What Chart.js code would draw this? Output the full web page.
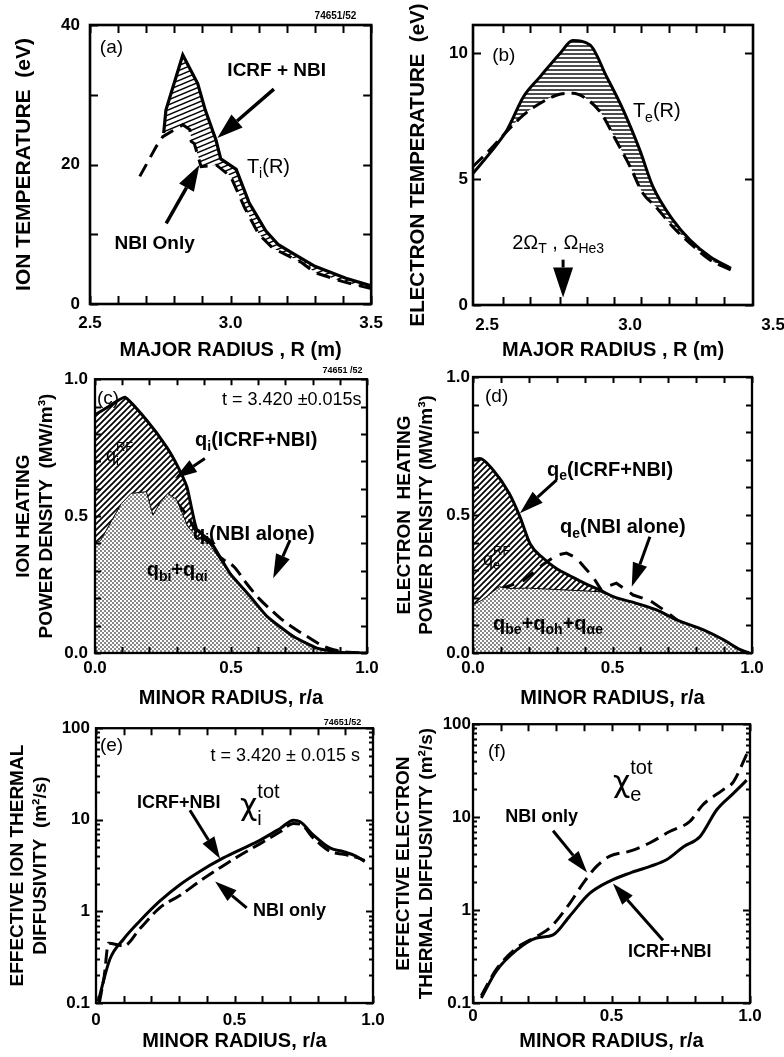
<!DOCTYPE html>
<html>
<head>
<meta charset="utf-8">
<script src="https://cdn.jsdelivr.net/npm/chart.js@4.4.0/dist/chart.umd.min.js"></script>
<style>
  html, body { margin: 0; padding: 0; background: #fff; overflow: hidden; width: 784px; height: 1057px; }
  canvas { position: absolute; }
</style>
</head>
<body>
<canvas id="ca" width="392" height="362" style="left:0;top:0"></canvas>
<canvas id="cb" width="408" height="362" style="left:392px;top:0"></canvas>
<canvas id="cc" width="392" height="350" style="left:0;top:362px"></canvas>
<canvas id="cd" width="408" height="350" style="left:392px;top:362px"></canvas>
<canvas id="ce" width="392" height="345" style="left:0;top:712px"></canvas>
<canvas id="cf" width="408" height="345" style="left:392px;top:712px"></canvas>
<script>
// ============================
// DATA
// ============================

// (a) ion temperature vs major radius
const aRsolid = [2.762, 2.77, 2.83, 2.883, 2.91, 2.948, 2.965, 3.02, 3.066, 3.125, 3.17, 3.22, 3.3, 3.41, 3.5];
const aTsolid = [24.5, 27.8, 35.7, 31.6, 27.8, 23.5, 20.8, 19.3, 14.5, 10.5, 8.5, 7.3, 5.4, 3.7, 2.6];
const aRdash = [2.677, 2.736, 2.759, 2.83, 2.855, 2.86, 2.871, 2.895, 2.95, 3.0, 3.05, 3.1, 3.15, 3.2, 3.25, 3.3, 3.4, 3.5];
const aTdash = [18.3, 22.6, 24.0, 25.7, 25.0, 23.3, 23.0, 19.7, 19.9, 18.3, 13.8, 10.0, 8.0, 7.0, 6.0, 4.5, 3.2, 2.2];
const aXticks = [2.5, 2.6, 2.7, 2.8, 2.9, 3.0, 3.1, 3.2, 3.3, 3.4, 3.5];
const aYticks = [0, 10, 20, 30, 40];
const aXlabels = [2.5, 3.0, 3.5];
const aYlabels = [0, 20, 40];

// (b) electron temperature vs major radius
const bRsolid = [2.451, 2.51, 2.57, 2.628, 2.686, 2.756, 2.8, 2.86, 2.918, 2.976, 3.034, 3.08, 3.15, 3.21, 3.28, 3.353];
const bTsolid = [5.23, 6.03, 6.95, 8.28, 9.07, 10.0, 10.5, 10.33, 9.07, 7.75, 6.16, 4.7, 3.38, 2.58, 1.92, 1.46];
const bRdash = [2.451, 2.51, 2.57, 2.628, 2.686, 2.745, 2.8, 2.86, 2.9, 2.95, 3.0, 3.045, 3.09, 3.15, 3.21, 3.28, 3.353];
const bTdash = [5.5, 6.16, 6.9, 7.55, 8.01, 8.34, 8.41, 8.08, 7.6, 6.56, 5.5, 4.44, 3.9, 3.1, 2.45, 1.79, 1.39];
const bXticks = [2.556, 2.652, 2.754, 2.848, 2.944, 3.04, 3.138, 3.232, 3.33];
const bYticks = [0, 5, 10];
const bXlabels = [2.5, 3.0, 3.5];
const bYlabels = [0, 5, 10];

// (c) ion heating power density vs r/a
const cRsolid = [0, 0.05, 0.11, 0.19, 0.263, 0.305, 0.338, 0.357, 0.375, 0.423, 0.46, 0.497, 0.57, 0.632, 0.73, 0.816, 0.877, 0.93, 1.0];
const cQsolid = [0.87, 0.9, 0.934, 0.85, 0.753, 0.68, 0.606, 0.52, 0.45, 0.41, 0.35, 0.29, 0.207, 0.134, 0.06, 0.018, 0.006, 0, 0];
const cRbeam = [0, 0.02, 0.048, 0.097, 0.133, 0.189, 0.213, 0.24, 0.268, 0.3, 0.342, 0.37, 0.42, 0.46, 0.5, 0.57, 0.632, 0.73, 0.816, 0.9, 1.0];
const cQbeam = [0.4, 0.41, 0.46, 0.546, 0.583, 0.589, 0.504, 0.55, 0.583, 0.56, 0.46, 0.43, 0.40, 0.34, 0.29, 0.205, 0.134, 0.06, 0.018, 0.004, 0];
const cRdash = [0.3, 0.34, 0.375, 0.42, 0.46, 0.51, 0.56, 0.607, 0.65, 0.69, 0.74, 0.78, 0.83, 0.877, 0.93, 1.0];
const cQdash = [0.55, 0.5, 0.44, 0.4, 0.35, 0.316, 0.25, 0.195, 0.155, 0.12, 0.085, 0.06, 0.03, 0.012, 0.003, 0];

// (d) electron heating power density vs r/a
const dRsolid = [0, 0.024, 0.072, 0.13, 0.168, 0.205, 0.25, 0.3, 0.347, 0.395, 0.455, 0.503, 0.586, 0.658, 0.73, 0.826, 0.898, 0.958, 0.99];
const dQsolid = [0.70, 0.705, 0.663, 0.578, 0.494, 0.395, 0.345, 0.305, 0.28, 0.255, 0.228, 0.204, 0.18, 0.156, 0.12, 0.084, 0.048, 0.012, 0];
const dRbeam = [0, 0.03, 0.094, 0.13, 0.2, 0.3, 0.4, 0.455, 0.503, 0.586, 0.658, 0.73, 0.826, 0.898, 0.958, 0.99];
const dQbeam = [0.175, 0.19, 0.24, 0.234, 0.235, 0.23, 0.225, 0.222, 0.204, 0.18, 0.156, 0.12, 0.084, 0.048, 0.012, 0];
const dRdash = [0.1, 0.18, 0.25, 0.3, 0.335, 0.37, 0.4, 0.43, 0.46, 0.478, 0.514, 0.55, 0.574, 0.634, 0.7, 0.755, 0.81, 0.87, 0.93, 1.0];
const dQdash = [0.232, 0.262, 0.32, 0.355, 0.362, 0.345, 0.31, 0.276, 0.228, 0.24, 0.253, 0.228, 0.21, 0.19, 0.145, 0.1, 0.06, 0.035, 0.012, 0];

// (e) ion thermal diffusivity
const eRsolid = [0.008, 0.05, 0.1, 0.159, 0.231, 0.304, 0.376, 0.448, 0.52, 0.593, 0.665, 0.713, 0.737, 0.785, 0.846, 0.894, 0.94, 0.97];
const eXsolid = [0.104, 0.3, 0.5, 0.79, 1.3, 1.97, 2.75, 3.67, 4.7, 6.0, 8.05, 9.9, 9.5, 6.8, 4.9, 4.5, 4.0, 3.5];
const eRdash = [0.012, 0.03, 0.045, 0.1, 0.159, 0.231, 0.304, 0.376, 0.448, 0.52, 0.593, 0.665, 0.713, 0.737, 0.785, 0.846, 0.894, 0.94, 0.97];
const eXdash = [0.1, 0.2, 0.45, 0.42, 0.65, 1.1, 1.5, 2.15, 3.0, 4.1, 5.5, 7.4, 9.1, 9.0, 6.3, 4.5, 4.2, 3.9, 3.6];

// (f) electron thermal diffusivity
const fRsolid = [0.03, 0.084, 0.157, 0.229, 0.289, 0.349, 0.42, 0.494, 0.566, 0.639, 0.7, 0.76, 0.82, 0.88, 0.94, 0.988];
const fXsolid = [0.113, 0.22, 0.37, 0.5, 0.54, 0.86, 1.5, 2.05, 2.5, 2.95, 3.5, 4.8, 6.2, 12, 18, 25];
const fRdash = [0.03, 0.084, 0.157, 0.229, 0.277, 0.35, 0.398, 0.446, 0.494, 0.566, 0.639, 0.71, 0.783, 0.83, 0.9, 0.94, 0.994];
const fXdash = [0.12, 0.23, 0.39, 0.52, 0.64, 1.19, 1.95, 2.95, 3.8, 4.3, 5.3, 7.0, 9.0, 13.6, 19.4, 24, 52];

// shared ticks for r/a panels
const tenths = [0, 0.1, 0.2, 0.3, 0.4, 0.5, 0.6, 0.7, 0.8, 0.9, 1.0];
const rLabels = [0, 0.5, 1.0];
const qLabels = [0, 0.5, 1.0];
const logMajor = [0.1, 1, 10, 100];
const logMinor = [0.2, 0.3, 0.4, 0.5, 0.6, 0.7, 0.8, 0.9, 2, 3, 4, 5, 6, 7, 8, 9, 20, 30, 40, 50, 60, 70, 80, 90];

// ============================
// HELPERS
// ============================
const FONT = '"Liberation Sans", Arial, Helvetica, sans-serif';
const GREEK = '"DejaVu Sans", "Liberation Sans", sans-serif';
Chart.defaults.font.family = FONT;
Chart.defaults.color = '#000';

function pts(xs, ys) { return xs.map((x, i) => ({ x: x, y: ys[i] })); }

function tile(w, h, draw) {
  const c = document.createElement('canvas');
  c.width = w; c.height = h;
  const g = c.getContext('2d');
  draw(g);
  return g.createPattern(c, 'repeat');
}
// hatch patterns
const hatchShallow = tile(12, 5, g => {
  g.strokeStyle = '#000'; g.lineWidth = 1.5; g.beginPath();
  for (let k = -1; k <= 1; k++) { g.moveTo(0, 5 + k * 5); g.lineTo(12, k * 5); }
  g.stroke();
});
const hatchHoriz = tile(4, 4, g => {
  g.strokeStyle = '#000'; g.lineWidth = 1.4; g.beginPath();
  g.moveTo(0, 2); g.lineTo(4, 2); g.stroke();
});
const hatchDiag = tile(6, 6, g => {
  g.strokeStyle = '#000'; g.lineWidth = 1.7; g.beginPath();
  g.moveTo(-1, 7); g.lineTo(7, -1);
  g.moveTo(-1, 1); g.lineTo(1, -1);
  g.moveTo(5, 7); g.lineTo(7, 5);
  g.stroke();
});
const stipple = tile(4, 4, g => {
  g.fillStyle = '#fff'; g.fillRect(0, 0, 4, 4);
  g.fillStyle = '#888'; g.fillRect(0, 0, 2, 2); g.fillRect(2, 2, 2, 2);
});
const NONE = 'rgba(0,0,0,0)';

function drawRich(ctx, n, px, py) {
  const size = n.size || 19, weight = n.weight || 'bold', sc = n.sc || 0.7;
  const small = weight + ' ' + Math.round(size * sc) + 'px ' + FONT;
  const parts = n.parts || [{ t: n.text }];
  const mainFont = p => weight + ' ' + size + 'px ' + (p.greek ? GREEK : FONT);
  let w = 0;
  const widths = parts.map(p => {
    let pw;
    if (p.t !== undefined) { ctx.font = mainFont(p); pw = ctx.measureText(p.t).width; }
    else {
      ctx.font = small;
      pw = Math.max(p.sub ? ctx.measureText(p.sub).width : 0, p.sup ? ctx.measureText(p.sup).width : 0);
    }
    w += pw;
    return pw;
  });
  let x = n.align === 'center' ? px - w / 2 : n.align === 'right' ? px - w : px;
  ctx.textBaseline = 'middle';
  ctx.textAlign = 'left';
  parts.forEach((p, i) => {
    if (p.t !== undefined) { ctx.font = mainFont(p); ctx.fillText(p.t, x, py); }
    else {
      ctx.font = small;
      if (p.sub) ctx.fillText(p.sub, x, py + size * (n.subDy || 0.32));
      if (p.sup) ctx.fillText(p.sup, x, py - size * (n.supDy || 0.45));
    }
    x += widths[i];
  });
}

function drawArrow(ctx, x1, y1, x2, y2, hl, hw, lw) {
  const a = Math.atan2(y2 - y1, x2 - x1);
  const bx = x2 - hl * Math.cos(a), by = y2 - hl * Math.sin(a);
  ctx.lineWidth = lw;
  ctx.beginPath(); ctx.moveTo(x1, y1); ctx.lineTo(bx, by); ctx.stroke();
  ctx.beginPath();
  ctx.moveTo(x2, y2);
  ctx.lineTo(bx + hw / 2 * Math.sin(a), by - hw / 2 * Math.cos(a));
  ctx.lineTo(bx - hw / 2 * Math.sin(a), by + hw / 2 * Math.cos(a));
  ctx.closePath(); ctx.fill();
}

// ============================
// FRAMES, TICKS AND NOTES
// ============================
const panelFrames = {
  ca: { xTicks: aXticks, yTicks: aYticks, len: 8, lw: 2.6 },
  cb: { xTicks: bXticks, yTicks: bYticks, len: 8, lw: 2.6 },
  cc: { xTicks: tenths, yTicks: tenths, len: 6, lw: 2.3 },
  cd: { xTicks: tenths, yTicks: tenths, len: 6, lw: 2.3 },
  ce: { xTicks: tenths, yTicks: logMajor, yMinor: logMinor, len: 7, minorLen: 4, lw: 2.3 },
  cf: { xTicks: tenths, yTicks: logMajor, yMinor: logMinor, len: 7, minorLen: 4, lw: 2.3 }
};

const panelNotes = {
  ca: [
    { text: '(a)', x: 2.535, y: 36.7, size: 19, weight: 'normal' },
    { text: '74651/52', x: 3.373, y: 41.3, size: 10, align: 'center' },
    { text: 'ICRF + NBI', x: 3.164, y: 33.4, size: 19, align: 'center' },
    { arrow: [3.154, 30.8, 2.953, 23.8], hl: 26, hw: 17, lw: 3.5 },
    { parts: [{ t: 'T' }, { sub: 'i' }, { t: '(R)' }], x: 3.058, y: 19.6, size: 20, weight: 'normal' },
    { text: 'NBI Only', x: 2.73, y: 8.7, size: 19, align: 'center' },
    { arrow: [2.771, 11.57, 2.889, 19.93], hl: 26, hw: 17, lw: 3.5 }
  ],
  cb: [
    { text: '(b)', x: 2.518, y: 9.9, size: 19, weight: 'normal' },
    { parts: [{ t: 'T' }, { sub: 'e' }, { t: '(R)' }], x: 3.01, y: 7.67, size: 20, weight: 'normal' },
    { parts: [{ t: '2Ω' }, { sub: 'T' }, { t: ' , Ω' }, { sub: 'He3' }], x: 2.588, y: 2.46, size: 20, weight: 'normal' },
    { arrow: [2.766, 1.8, 2.766, 0.3], hl: 30, hw: 20, lw: 3 }
  ],
  cc: [
    { text: '(c)', x: 0.007, y: 0.93, size: 19, weight: 'normal' },
    { text: '74651 /52', x: 0.91, y: 1.03, size: 9, align: 'center' },
    { text: 't = 3.420 ±0.015s', x: 0.98, y: 0.923, size: 18, weight: 'normal', align: 'right' },
    { parts: [{ t: 'q' }, { sub: 'i' }, { t: '(ICRF+NBI)' }], x: 0.368, y: 0.777, size: 20 },
    { arrow: [0.404, 0.71, 0.294, 0.638], hl: 22, hw: 14, lw: 3 },
    { parts: [{ t: 'q' }, { sub: 'i' }, { t: '(NBI alone)' }], x: 0.36, y: 0.434, size: 20 },
    { arrow: [0.717, 0.412, 0.655, 0.273], hl: 24, hw: 15, lw: 3 },
    { parts: [{ t: 'q' }, { sub: 'bi' }, { t: '+q' }, { sub: 'αi' }], x: 0.19, y: 0.30, size: 20 },
    { parts: [{ t: 'q' }, { sub: 'i', sup: 'RF' }], x: 0.04, y: 0.72, size: 18, weight: 'normal' }
  ],
  cd: [
    { text: '(d)', x: 0.043, y: 0.928, size: 19, weight: 'normal' },
    { parts: [{ t: 'q' }, { sub: 'e' }, { t: '(ICRF+NBI)' }], x: 0.265, y: 0.663, size: 20 },
    { arrow: [0.3, 0.627, 0.168, 0.506], hl: 24, hw: 15, lw: 3 },
    { parts: [{ t: 'q' }, { sub: 'e' }, { t: '(NBI alone)' }], x: 0.312, y: 0.453, size: 20 },
    { arrow: [0.634, 0.421, 0.569, 0.24], hl: 24, hw: 15, lw: 3 },
    { parts: [{ t: 'q' }, { sub: 'e', sup: 'RF' }], x: 0.036, y: 0.337, size: 18, weight: 'normal' },
    { parts: [{ t: 'q' }, { sub: 'be' }, { t: '+q' }, { sub: 'oh' }, { t: '+q' }, { sub: 'αe' }], x: 0.072, y: 0.105, size: 20 }
  ],
  ce: [
    { text: '(e)', x: 0.014, y: 64, size: 19, weight: 'normal' },
    { text: '74651/52', x: 0.89, y: 116, size: 9, align: 'center' },
    { text: 't = 3.420 ± 0.015 s', x: 0.953, y: 49.9, size: 18, weight: 'normal', align: 'right' },
    { text: 'ICRF+NBI', x: 0.148, y: 15.1, size: 18 },
    { parts: [{ t: 'χ', greek: true }, { sub: 'i', sup: 'tot' }], x: 0.52, y: 13.7, size: 30, weight: 'normal', sc: 0.65, subDy: 0.4, supDy: 0.5 },
    { arrow: [0.339, 12.7, 0.448, 3.76], hl: 22, hw: 14, lw: 3 },
    { text: 'NBI only', x: 0.567, y: 1.008, size: 18 },
    { arrow: [0.544, 1.094, 0.43, 2.12], hl: 22, hw: 14, lw: 3 }
  ],
  cf: [
    { text: '(f)', x: 0.054, y: 50, size: 19, weight: 'normal' },
    { parts: [{ t: 'χ', greek: true }, { sub: 'e', sup: 'tot' }], x: 0.505, y: 22.8, size: 30, weight: 'normal', sc: 0.65, subDy: 0.4, supDy: 0.5 },
    { text: 'NBI only', x: 0.116, y: 10, size: 18 },
    { arrow: [0.289, 7.14, 0.412, 2.54], hl: 22, hw: 14, lw: 3 },
    { text: 'ICRF+NBI', x: 0.56, y: 0.35, size: 18 },
    { arrow: [0.686, 0.473, 0.505, 1.93], hl: 22, hw: 14, lw: 3 }
  ]
};

// inward tick marks on all four sides plus the box
const framePlugin = {
  id: 'frame',
  afterDraw(chart) {
    const o = panelFrames[chart.canvas.id];
    const { ctx, chartArea: a } = chart;
    const x = chart.scales.x, y = chart.scales.y;
    ctx.save();
    ctx.strokeStyle = '#000';
    ctx.lineWidth = 2;
    ctx.lineCap = 'butt';
    ctx.beginPath();
    o.xTicks.forEach(v => {
      const px = Math.round(x.getPixelForValue(v)) + 0.5;
      ctx.moveTo(px, a.bottom); ctx.lineTo(px, a.bottom - o.len);
      ctx.moveTo(px, a.top); ctx.lineTo(px, a.top + o.len);
    });
    o.yTicks.forEach(v => {
      const py = Math.round(y.getPixelForValue(v)) + 0.5;
      ctx.moveTo(a.left, py); ctx.lineTo(a.left + o.len, py);
      ctx.moveTo(a.right, py); ctx.lineTo(a.right - o.len, py);
    });
    (o.yMinor || []).forEach(v => {
      const py = Math.round(y.getPixelForValue(v)) + 0.5;
      ctx.moveTo(a.left, py); ctx.lineTo(a.left + o.minorLen, py);
      ctx.moveTo(a.right, py); ctx.lineTo(a.right - o.minorLen, py);
    });
    ctx.stroke();
    ctx.lineWidth = o.lw;
    ctx.strokeRect(a.left, a.top, a.width, a.height);
    ctx.restore();
  }
};

const notesPlugin = {
  id: 'notes',
  afterDraw(chart) {
    const list = panelNotes[chart.canvas.id];
    const { ctx } = chart;
    const x = chart.scales.x, y = chart.scales.y;
    ctx.save();
    ctx.fillStyle = '#000';
    ctx.strokeStyle = '#000';
    list.forEach(n => {
      if (n.arrow) {
        const [x1, y1, x2, y2] = n.arrow;
        drawArrow(ctx, x.getPixelForValue(x1), y.getPixelForValue(y1),
          x.getPixelForValue(x2), y.getPixelForValue(y2), n.hl, n.hw, n.lw);
      } else {
        drawRich(ctx, n, x.getPixelForValue(n.x), y.getPixelForValue(n.y));
      }
    });
    ctx.restore();
  }
};

// ============================
// PANEL BUILDER
// ============================
function makePanel(id, o) {
  const tickFont = { size: 17, weight: 'bold' };
  return new Chart(document.getElementById(id), {
    type: 'line',
    data: { datasets: o.datasets },
    options: {
      responsive: false,
      animation: false,
      devicePixelRatio: 1,
      events: [],
      layout: { padding: { top: o.padTop, right: o.padRight, bottom: 0, left: 0 } },
      plugins: { legend: { display: false }, tooltip: { enabled: false } },
      elements: { point: { radius: 0 }, line: { borderColor: '#000', borderCapStyle: 'butt' } },
      scales: {
        x: {
          type: 'linear', min: o.xMin, max: o.xMax,
          grid: { display: false, drawTicks: false }, border: { display: false },
          afterBuildTicks: s => { s.ticks = o.xLabels.map(v => ({ value: v })); },
          afterFit: s => { s.height = o.xH; },
          ticks: { padding: o.xPad, font: tickFont, color: '#000', maxRotation: 0, autoSkip: false, callback: o.xFmt },
          title: { display: true, text: o.xTitle, color: '#000', font: { size: 20, weight: 'bold' }, padding: { top: 0, bottom: o.xTitlePad } }
        },
        y: {
          type: o.yType || 'linear', min: o.yMin, max: o.yMax,
          grid: { display: false, drawTicks: false }, border: { display: false },
          afterBuildTicks: s => { s.ticks = o.yLabels.map(v => ({ value: v })); },
          afterFit: s => { s.width = o.yW; },
          ticks: { padding: o.yPad, font: tickFont, color: '#000', autoSkip: false, callback: o.yFmt },
          title: { display: true, text: o.yTitle, color: '#000', font: { size: o.yTitleSize, weight: 'bold', lineHeight: o.yTitleLH }, padding: { top: o.yTitlePad, bottom: 0 } }
        }
      }
    },
    plugins: [framePlugin, notesPlugin]
  });
}

const fmt1 = v => v.toFixed(1);
const fmtInt = v => String(v);
const fmtR = v => (v === 0 ? '0' : v.toFixed(1));
const solid = (xs, ys, extra) => Object.assign({ data: pts(xs, ys), borderColor: '#000', borderWidth: 3, pointRadius: 0, fill: false }, extra || {});
const dashed = (xs, ys, extra) => Object.assign({ data: pts(xs, ys), borderColor: '#000', borderWidth: 3, borderDash: [13, 7], pointRadius: 0, fill: false }, extra || {});

// (a)
makePanel('ca', {
  datasets: [
    solid(aRsolid, aTsolid, { borderWidth: 3.2, tension: 0, fill: { target: 1, above: hatchShallow, below: NONE } }),
    dashed(aRdash, aTdash, { tension: 0, borderDash: [14, 8] })
  ],
  padTop: 25, padRight: 19, yW: 90, xH: 58,
  xMin: 2.5, xMax: 3.5, yMin: 0, yMax: 40,
  xLabels: aXlabels, yLabels: aYlabels, xFmt: fmt1, yFmt: fmtInt, xPad: 9, yPad: 10,
  xTitle: 'MAJOR RADIUS , R (m)', xTitlePad: 0,
  yTitle: 'ION TEMPERATURE  (eV)', yTitleSize: 21, yTitleLH: '26px', yTitlePad: 11
});

// (b)
makePanel('cb', {
  datasets: [
    solid(bRsolid, bTsolid, { cubicInterpolationMode: 'monotone', fill: { target: 1, above: hatchHoriz, below: NONE } }),
    dashed(bRdash, bTdash, { cubicInterpolationMode: 'monotone', borderDash: [14, 7] })
  ],
  padTop: 25, padRight: 47, yW: 81, xH: 57,
  xMin: 2.451, xMax: 3.43, yMin: 0, yMax: 11.12,
  xLabels: bXlabels, yLabels: bYlabels, xFmt: fmt1, yFmt: fmtInt, xPad: 10, yPad: 5,
  xTitle: 'MAJOR RADIUS , R (m)', xTitlePad: 0,
  yTitle: 'ELECTRON TEMPERATURE  (eV)', yTitleSize: 20.5, yTitleLH: '25px', yTitlePad: 14
});

// (c)
makePanel('cc', {
  datasets: [
    solid(cRsolid, cQsolid, { tension: 0.15, fill: { target: 1, above: hatchDiag, below: NONE } }),
    solid(cRbeam, cQbeam, { borderWidth: 1, tension: 0, fill: { target: 'origin', above: stipple, below: NONE } }),
    dashed(cRdash, cQdash, { cubicInterpolationMode: 'monotone', borderDash: [14, 7] })
  ],
  padTop: 17, padRight: 25, yW: 95, xH: 59,
  xMin: 0, xMax: 1, yMin: 0, yMax: 1,
  xLabels: rLabels, yLabels: qLabels, xFmt: fmt1, yFmt: fmt1, xPad: 5, yPad: 7,
  xTitle: 'MINOR RADIUS, r/a', xTitlePad: 2,
  yTitle: ['ION HEATING', 'POWER DENSITY  (MW/m³)'], yTitleSize: 19, yTitleLH: '23px', yTitlePad: 12
});

// (d)
makePanel('cd', {
  datasets: [
    solid(dRsolid, dQsolid, { cubicInterpolationMode: 'monotone', fill: { target: 1, above: hatchDiag, below: NONE } }),
    solid(dRbeam, dQbeam, { borderWidth: 1, tension: 0, fill: { target: 'origin', above: stipple, below: NONE } }),
    dashed(dRdash, dQdash, { tension: 0, borderDash: [14, 9] })
  ],
  padTop: 15, padRight: 48, yW: 81, xH: 59,
  xMin: 0, xMax: 1, yMin: 0, yMax: 1,
  xLabels: rLabels, yLabels: qLabels, xFmt: fmt1, yFmt: fmt1, xPad: 5, yPad: 3,
  xTitle: 'MINOR RADIUS, r/a', xTitlePad: 2,
  yTitle: ['ELECTRON  HEATING', 'POWER DENSITY (MW/m³)'], yTitleSize: 19, yTitleLH: '22px', yTitlePad: 2
});

// (e)
makePanel('ce', {
  datasets: [
    solid(eRsolid, eXsolid, { cubicInterpolationMode: 'monotone' }),
    dashed(eRdash, eXdash, { cubicInterpolationMode: 'monotone', borderDash: [14, 6] })
  ],
  padTop: 13, padRight: 19, yW: 96, xH: 54,
  xMin: 0, xMax: 1, yType: 'logarithmic', yMin: 0.1, yMax: 100,
  xLabels: rLabels, yLabels: logMajor, xFmt: fmtR, yFmt: fmtInt, xPad: 7, yPad: 6,
  xTitle: 'MINOR RADIUS, r/a', xTitlePad: 4,
  yTitle: ['EFFECTIVE ION THERMAL', 'DIFFUSIVITY  (m²/s)'], yTitleSize: 19, yTitleLH: '23px', yTitlePad: 6
});

// (f)
makePanel('cf', {
  datasets: [
    solid(fRsolid, fXsolid, { cubicInterpolationMode: 'monotone' }),
    dashed(fRdash, fXdash, { cubicInterpolationMode: 'monotone', borderDash: [14, 7] })
  ],
  padTop: 11, padRight: 50, yW: 81, xH: 54,
  xMin: 0, xMax: 1, yType: 'logarithmic', yMin: 0.1, yMax: 100,
  xLabels: rLabels, yLabels: logMajor, xFmt: fmtR, yFmt: fmtInt, xPad: 3, yPad: 2,
  xTitle: 'MINOR RADIUS, r/a', xTitlePad: 4,
  yTitle: ['EFFECTIVE ELECTRON', 'THERMAL DIFFUSIVITY (m²/s)'], yTitleSize: 19, yTitleLH: '23px', yTitlePad: 0
});
</script>
</body>
</html>
